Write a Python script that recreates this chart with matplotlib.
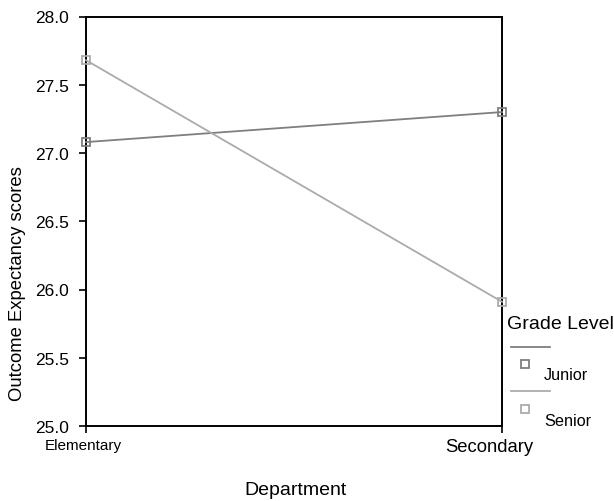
import matplotlib
matplotlib.use("Agg")
import matplotlib.pyplot as plt
from matplotlib.lines import Line2D
from matplotlib.transforms import ScaledTranslation

plt.rcParams['font.family'] = ['Liberation Sans', 'DejaVu Sans']

departments = ["Elementary", "Secondary"]
junior = [27.08, 27.30]
senior = [27.68, 25.91]
y_ticks = [25.0, 25.5, 26.0, 26.5, 27.0, 27.5, 28.0]

junior_color = "#7f7f7f"
senior_color = "#ababab"

fig = plt.figure(figsize=(6.14, 5.02), dpi=100)
W, H = 614, 502
ax = fig.add_axes([86 / W, (H - 427) / H, (502 - 86) / W, (427 - 17.5) / H])

x = list(range(len(departments)))
ax.plot(x, junior, color=junior_color, lw=1.3, marker='s', ms=5.5,
        mfc='none', mec=junior_color, mew=1.3, clip_on=False, zorder=3)
ax.plot(x, senior, color=senior_color, lw=1.3, marker='s', ms=5.5,
        mfc='none', mec=senior_color, mew=1.3, clip_on=False, zorder=3)

ax.set_xlim(0, 1)
ax.set_ylim(25.0, 28.0)
ax.set_yticks(y_ticks)
ax.set_yticklabels([f"{v:.1f}" for v in y_ticks], fontsize=12.5)
ax.set_xticks(x)
ax.set_xticklabels(departments)
ax.tick_params(axis='both', direction='out', length=5, width=1.2, color='black')
ax.tick_params(axis='x', pad=4)
ax.tick_params(axis='y', pad=7)
xlabels = ax.get_xticklabels()
xlabels[0].set_fontsize(11)
xlabels[1].set_fontsize(13.3)
xlabels[0].set_transform(xlabels[0].get_transform() +
                         ScaledTranslation(-3 / 100, 0, fig.dpi_scale_trans))
xlabels[1].set_transform(xlabels[1].get_transform() +
                         ScaledTranslation(-13 / 100, 0, fig.dpi_scale_trans))
for s in ax.spines.values():
    s.set_linewidth(1.4)

def fx(px):
    return px / W

def fy(py):
    return 1 - py / H

fig.text(fx(18), fy(284), "Outcome Expectancy scores", fontsize=13.3,
         rotation=90, ha='center', va='center')
fig.text(fx(295), fy(491), "Department", fontsize=14, ha='center', va='center')

# legend drawn manually in figure pixel coordinates
fig.text(fx(507), fy(325), "Grade Level", fontsize=14, ha='left', va='center')
fig.add_artist(Line2D([fx(511), fx(550)], [fy(348), fy(348)], color=junior_color, lw=1.3))
fig.add_artist(Line2D([fx(525)], [fy(365)], marker='s', ms=5.5, mfc='none',
                      mec=junior_color, mew=1.3, ls='none'))
fig.text(fx(544), fy(376), "Junior", fontsize=11.7, ha='left', va='center')
fig.add_artist(Line2D([fx(511), fx(550)], [fy(392), fy(392)], color=senior_color, lw=1.3))
fig.add_artist(Line2D([fx(525)], [fy(410)], marker='s', ms=5.5, mfc='none',
                      mec=senior_color, mew=1.3, ls='none'))
fig.text(fx(544), fy(421), "Senior", fontsize=11.7, ha='left', va='center')

fig.savefig("out.png", dpi=100)
